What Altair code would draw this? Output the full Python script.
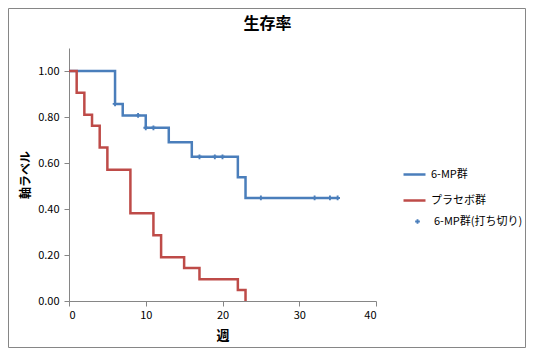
import altair as alt
import pandas as pd

# 6-MP group Kaplan-Meier steps
mp_time = [0, 6, 7, 10, 13, 16, 22, 23, 35]
mp_surv = [1.0, 0.857, 0.807, 0.753, 0.690, 0.627, 0.538, 0.448, 0.448]
# Placebo group steps
pl_time = [0, 1, 2, 3, 4, 5, 8, 11, 12, 15, 17, 22, 23]
pl_surv = [1.0, 0.905, 0.810, 0.762, 0.667, 0.571, 0.381, 0.286, 0.190, 0.143, 0.095, 0.048, 0.0]
# censored observations (6-MP)
cens_time = [6, 9, 10, 11, 17, 19, 20, 25, 32, 34, 35]
cens_surv = [0.857, 0.807, 0.753, 0.753, 0.627, 0.627, 0.627, 0.448, 0.448, 0.448, 0.448]

series_names = ["6-MP群", "プラセボ群"]
cens_name = "6-MP群(打ち切り)"
x_ticks = [0, 10, 20, 30, 40]
y_ticks = [0, 0.2, 0.4, 0.6, 0.8, 1.0]

lines = pd.DataFrame(
    [{"t": t, "s": s, "g": series_names[0], "o": i} for i, (t, s) in enumerate(zip(mp_time, mp_surv))]
    + [{"t": t, "s": s, "g": series_names[1], "o": i} for i, (t, s) in enumerate(zip(pl_time, pl_surv))]
)
cens = pd.DataFrame({"t": cens_time, "s": cens_surv, "g": cens_name})

FONT = "Noto Sans CJK JP"
BLUE = "#4A7EBB"
RED = "#BE4B48"
GRAY = "#868686"

xs = alt.Scale(domain=[0, 40], nice=False)
ys = alt.Scale(domain=[0, 1.1], nice=False)

x_axis = alt.Axis(values=x_ticks, grid=False, domainColor=GRAY, tickColor=GRAY, tickSize=5,
                  labelFont=FONT, labelFontSize=11, labelColor="#000", labelPadding=3,
                  title="週", titleFont=FONT, titleFontSize=13, titleFontWeight="bold",
                  titleColor="#000", titlePadding=9)
y_axis = alt.Axis(values=y_ticks, format=".2f", grid=False, domainColor=GRAY, tickColor=GRAY, tickSize=5,
                  labelFont=FONT, labelFontSize=11, labelColor="#000", labelPadding=5,
                  title="軸ラベル", titleFont=FONT, titleFontSize=12, titleFontWeight="bold",
                  titleColor="#000", titlePadding=5)

line_layer = alt.Chart(lines).mark_line(interpolate="step-after", strokeWidth=2.5).encode(
    x=alt.X("t:Q", scale=xs, axis=x_axis),
    y=alt.Y("s:Q", scale=ys, axis=y_axis),
    color=alt.Color("g:N", scale=alt.Scale(domain=series_names, range=[BLUE, RED]),
                    legend=alt.Legend(title=None, orient="none", legendX=333, legendY=114,
                                      symbolType="stroke", symbolSize=484, symbolStrokeWidth=2.5,
                                      labelFont=FONT, labelFontSize=11, labelColor="#000",
                                      labelOffset=4, rowPadding=8, padding=0)),
    order="o:Q",
)

pt_layer = alt.Chart(cens).mark_point(shape="cross", filled=True, size=22, color=BLUE, opacity=1).encode(
    x=alt.X("t:Q", scale=xs),
    y=alt.Y("s:Q", scale=ys),
    shape=alt.Shape("g:N", scale=alt.Scale(domain=[cens_name], range=["cross"]),
                    legend=alt.Legend(title=None, orient="none", legendX=343, legendY=168,
                                      symbolSize=22, symbolFillColor=BLUE, symbolStrokeColor=BLUE,
                                      labelFont=FONT, labelFontSize=11, labelColor="#000",
                                      labelOffset=11, padding=0)),
)

border = alt.Chart(alt.Data(values=[{}])).mark_rect(fill=None, stroke=GRAY, strokeWidth=1).encode(
    x=alt.value(-60.5), x2=alt.value(456.5), y=alt.value(-39.5), y2=alt.value(299.5)
)

chart = alt.layer(border, line_layer, pt_layer).properties(
    width=307, height=253,
    title=alt.TitleParams("生存率", font=FONT, fontSize=16, fontWeight="bold", color="#000",
                          anchor="middle", dx=45, offset=0, baseline="middle", dy=32),
    autosize=alt.AutoSizeParams(type="none"),
    padding={"left": 61, "top": 40, "right": 150, "bottom": 47},
    background="white",
).configure_view(strokeWidth=0, stroke="transparent")

chart.save("out.html", embed_options={"renderer": "svg", "actions": False})
